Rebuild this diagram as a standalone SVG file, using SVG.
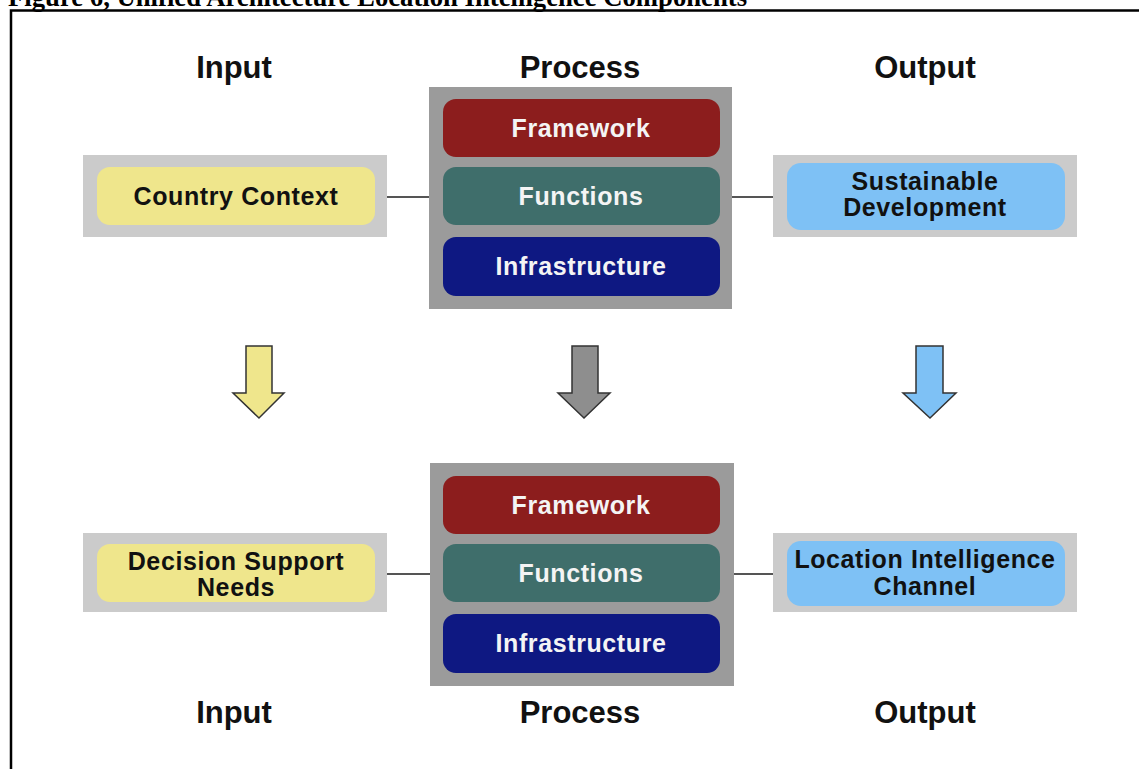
<svg xmlns="http://www.w3.org/2000/svg" width="1139" height="769" viewBox="0 0 1139 769">
<style>
.hdr{font-family:"Liberation Sans",Arial,sans-serif;font-weight:bold;font-size:31px;fill:#111;text-anchor:middle}
.lbl{font-family:"Liberation Sans",Arial,sans-serif;font-weight:bold;font-size:25px;letter-spacing:0.6px;fill:#111;text-anchor:middle}
.wl{font-family:"Liberation Sans",Arial,sans-serif;font-weight:bold;font-size:25px;letter-spacing:0.6px;fill:#f4f4f4;text-anchor:middle}
.outer{fill:#cbcbcb}
.proc{fill:#9b9b9b}
.yel{fill:#efe68c}
.blu{fill:#7ec1f5}
.fw{fill:#8c1d1d}
.fn{fill:#3f6e6b}
.inf{fill:#0e1882}
.conn{stroke:#555;stroke-width:2;fill:none}
.arr{stroke:#333;stroke-width:1.5;stroke-linejoin:miter}
</style>
<rect width="1139" height="769" fill="#fff"/>
<text x="8" y="6" font-family="Liberation Serif,'Times New Roman',serif" font-weight="bold" font-size="26.7">Figure 6, Unified Architecture Location Intelligence Components</text>
<path d="M11 769 V10.5 H1139" fill="none" stroke="#000" stroke-width="2.5"/>

<g id="headers-top">
<text class="hdr" x="234" y="78">Input</text>
<text class="hdr" x="580" y="78">Process</text>
<text class="hdr" x="925" y="78">Output</text>
</g>

<g id="connectors">
<line class="conn" x1="386" y1="197" x2="430" y2="197"/>
<line class="conn" x1="731" y1="197" x2="774" y2="197"/>
<line class="conn" x1="386" y1="574" x2="432" y2="574"/>
<line class="conn" x1="734" y1="574" x2="774" y2="574"/>
<path class="arr" fill="#efe68c" d="M246 346 H272 V393 H284 L259 418 L233 393 H246 Z"/>
<path class="arr" fill="#8e8e8e" d="M572 346 H598 V393 H610 L584 418 L558 393 H572 Z"/>
<path class="arr" fill="#7ec1f5" d="M916 346 H943 V393 H956 L930 418 L903 393 H916 Z"/>
</g>

<g id="country-context">
<rect class="outer" x="83" y="155" width="304" height="82"/>
<rect class="yel" x="97" y="167" width="278" height="58" rx="13"/>
<text class="lbl" x="236" y="205">Country Context</text>
</g>

<g id="process-top">
<rect class="proc" x="429" y="87" width="303" height="222"/>
<rect class="fw" x="443" y="99" width="277" height="58" rx="13"/>
<text class="wl" x="581" y="137">Framework</text>
<rect class="fn" x="443" y="167" width="277" height="58" rx="13"/>
<text class="wl" x="581" y="205">Functions</text>
<rect class="inf" x="443" y="237" width="277" height="59" rx="13"/>
<text class="wl" x="581" y="275">Infrastructure</text>
</g>

<g id="sustainable-development">
<rect class="outer" x="773" y="155" width="304" height="82"/>
<rect class="blu" x="787" y="163" width="278" height="67" rx="14"/>
<text class="lbl" x="925" y="190">Sustainable</text>
<text class="lbl" x="925" y="216">Development</text>
</g>

<g id="decision-support">
<rect class="outer" x="83" y="533" width="304" height="79"/>
<rect class="yel" x="97" y="544" width="278" height="58" rx="13"/>
<text class="lbl" x="236" y="570">Decision Support</text>
<text class="lbl" x="236" y="596">Needs</text>
</g>

<g id="process-bottom">
<rect class="proc" x="430" y="463" width="304" height="223"/>
<rect class="fw" x="443" y="476" width="277" height="58" rx="13"/>
<text class="wl" x="581" y="514">Framework</text>
<rect class="fn" x="443" y="544" width="277" height="58" rx="13"/>
<text class="wl" x="581" y="582">Functions</text>
<rect class="inf" x="443" y="614" width="277" height="59" rx="13"/>
<text class="wl" x="581" y="652">Infrastructure</text>
</g>

<g id="location-intelligence">
<rect class="outer" x="773" y="533" width="304" height="79"/>
<rect class="blu" x="787" y="541" width="278" height="65" rx="14"/>
<text class="lbl" x="925" y="568">Location Intelligence</text>
<text class="lbl" x="925" y="595">Channel</text>
</g>

<g id="headers-bottom">
<text class="hdr" x="234" y="723">Input</text>
<text class="hdr" x="580" y="723">Process</text>
<text class="hdr" x="925" y="723">Output</text>
</g>
</svg>
